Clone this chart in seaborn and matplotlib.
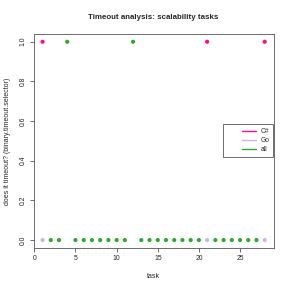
import pandas as pd
import seaborn as sns
import matplotlib.pyplot as plt
from matplotlib.patches import Rectangle

# data
csharp_tasks = [1, 21, 28]
csharp_timeout = [1, 1, 1]
go_tasks = [1, 21, 28]
go_timeout = [0, 0, 0]
all_tasks = [2, 3, 4, 5, 6, 7, 8, 9, 10, 11, 12, 13, 14, 15, 16, 17, 18, 19, 20,
             22, 23, 24, 25, 26, 27]
all_timeout = [0, 0, 1, 0, 0, 0, 0, 0, 0, 0, 1, 0, 0, 0, 0, 0, 0, 0, 0,
               0, 0, 0, 0, 0, 0]

langs = ['C#', 'Go', 'all']
colors = ['#ff0a8c', '#c8b8e0', '#2ea82e']

data = pd.concat([
    pd.DataFrame({'task': csharp_tasks, 'timeout': csharp_timeout, 'lang': 'C#'}),
    pd.DataFrame({'task': go_tasks, 'timeout': go_timeout, 'lang': 'Go'}),
    pd.DataFrame({'task': all_tasks, 'timeout': all_timeout, 'lang': 'all'}),
])

sns.set_style("ticks")
plt.rcParams['font.family'] = ['Liberation Sans', 'DejaVu Sans']

fig = plt.figure(figsize=(2.91, 2.91), dpi=100)
ax = fig.add_axes([0.1158, 0.1478, 0.8244, 0.736])
sns.scatterplot(x='task', y='timeout', hue='lang', data=data, palette=colors,
                hue_order=langs, s=9, linewidth=0, ax=ax, legend=False)

ax.set_xlim(-0.08, 29.08)
ax.set_ylim(-0.04, 1.04)
ax.set_xticks([0, 5, 10, 15, 20, 25])
ax.set_yticks([0.0, 0.2, 0.4, 0.6, 0.8, 1.0])
ax.set_yticklabels(['0.0', '0.2', '0.4', '0.6', '0.8', '1.0'], rotation=90, va='center')
ax.tick_params(labelsize=4.9, length=3, width=0.5, color='#333333', pad=2,
               labelcolor='#222222')
for sp in ax.spines.values():
    sp.set_linewidth(0.6)
    sp.set_color('#555555')

ax.set_title('Timeout analysis: scalability tasks', fontsize=5.7, fontweight='bold', pad=11)
ax.set_xlabel('task', fontsize=5.0, labelpad=8)
ax.set_ylabel('does it timeout? (binary.timeout.selector)', fontsize=5.0, labelpad=6)

# legend box like R's legend()
ax.add_patch(Rectangle((0.79, 0.425), 0.208, 0.154, transform=ax.transAxes,
                       facecolor='white', edgecolor='#555555', lw=0.6,
                       clip_on=False, zorder=4))
handles = [plt.Line2D([], [], color=c, lw=1) for c in colors]
leg = ax.legend(handles, langs, loc='upper left', bbox_to_anchor=(0.868, 0.56),
                fontsize=4.8, frameon=False, handlelength=2.1,
                borderpad=0, labelspacing=0.3, handletextpad=0.75, borderaxespad=0)
leg.set_zorder(5)

fig.savefig('out.png', dpi=100)
